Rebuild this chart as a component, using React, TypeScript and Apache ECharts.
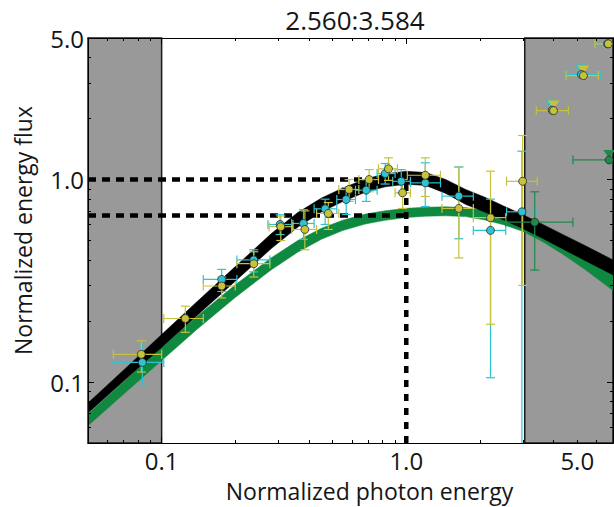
import { useEffect, useRef } from 'react';
import * as echarts from 'echarts';

// ---------- text ----------
const TITLE = '2.560:3.584';
const X_NAME = 'Normalized photon energy';
const Y_NAME = 'Normalized energy flux';

// ---------- axes ----------
const X_MIN = 0.05;
const X_MAX = 7;
const Y_MIN = 0.05;
const Y_MAX = 5;
const X_LABEL_VALUES = [0.1, 1, 5];
const X_LABEL_TEXTS = ['0.1', '1.0', '5.0'];
const Y_LABEL_VALUES = [0.1, 1, 5];
const Y_LABEL_TEXTS = ['0.1', '1.0', '5.0'];
const X_MAJOR = [0.1, 1];
const X_MINOR = [0.06, 0.07, 0.08, 0.09, 0.2, 0.3, 0.4, 0.5, 0.6, 0.7, 0.8, 0.9, 2, 3, 4, 5, 6, 7];
const Y_MAJOR = [0.1, 1];
const Y_MINOR = [0.06, 0.07, 0.08, 0.09, 0.2, 0.3, 0.4, 0.5, 0.6, 0.7, 0.8, 0.9, 2, 3, 4, 5];

// ---------- shaded (excluded) energy ranges ----------
const SHADED = [
  [0.05, 0.1],
  [3.05, 7],
];

// ---------- reference dashed lines ----------
const REF_FLUX = [1.0, 0.665];
const REF_ENERGY = 1.0;

// ---------- model bands (energy grid, lower / upper flux edge) ----------
const BAND_ENERGY = [0.05, 0.07, 0.1, 0.14, 0.2, 0.28, 0.36, 0.45, 0.55, 0.68, 0.82, 1.0, 1.2, 1.45, 1.75, 2.1, 2.5, 3.0, 3.6, 4.4, 5.4, 7.0];
const BLACK_UPPER = [0.0788, 0.1148, 0.1718, 0.2503, 0.3715, 0.5394, 0.6871, 0.81, 0.9078, 1.0058, 1.067, 1.099, 1.084, 1.001, 0.8932, 0.8165, 0.7405, 0.6706, 0.602, 0.533, 0.471, 0.401];
const BLACK_LOWER = [0.0704, 0.1014, 0.1483, 0.2136, 0.3148, 0.4549, 0.5821, 0.691, 0.778, 0.866, 0.92, 0.948, 0.9354, 0.8541, 0.7535, 0.6888, 0.6316, 0.5722, 0.513, 0.452, 0.397, 0.338];
const GREEN_UPPER = [0.0694, 0.1003, 0.1479, 0.2118, 0.302, 0.41, 0.4994, 0.5742, 0.6303, 0.6754, 0.701, 0.7209, 0.7301, 0.7335, 0.7267, 0.702, 0.6695, 0.6281, 0.5679, 0.4982, 0.4259, 0.3419];
const GREEN_LOWER = [0.0609, 0.0872, 0.1276, 0.1828, 0.2618, 0.3575, 0.4378, 0.507, 0.5602, 0.6031, 0.6288, 0.6492, 0.659, 0.662, 0.656, 0.6307, 0.5978, 0.5546, 0.4937, 0.425, 0.3585, 0.2832];

// ---------- measurements [x, y, xLow, xHigh, yLow, yHigh] ----------
const CYAN_POINTS = [
  [0.0834, 0.125, 0.0635, 0.102, 0.098, 0.152],
  [0.176, 0.321, 0.148, 0.203, 0.28, 0.36],
  [0.238, 0.401, 0.203, 0.277, 0.35, 0.45],
  [0.305, 0.6, 0.272, 0.344, 0.535, 0.67],
  [0.38, 0.607, 0.34, 0.42, 0.506, 0.71],
  [0.466, 0.717, 0.42, 0.52, 0.6, 0.8],
  [0.568, 0.797, 0.52, 0.62, 0.672, 0.913],
  [0.686, 0.886, 0.62, 0.76, 0.78, 1.0],
  [0.82, 1.07, 0.76, 0.9, 0.95, 1.2],
  [0.954, 0.98, 0.88, 1.04, 0.86, 1.12],
  [1.196, 0.963, 1.04, 1.38, 0.736, 1.21],
  [1.64, 0.828, 1.4, 1.88, 0.51, 1.155],
  [2.21, 0.561, 1.88, 2.55, 0.105, 0.8],
  [2.97, 0.693, 2.57, 3.43, 0.01, 1.38],
  [3.95, 2.2, 3.4, 4.6, 2.2, 2.2],
  [5.2, 3.3, 4.5, 6.2, 3.3, 3.3],
  [6.65, 4.68, 5.9, 7.5, 4.68, 4.68],
];
const YELLOW_POINTS = [
  [0.0826, 0.137, 0.0635, 0.1, 0.112, 0.16],
  [0.125, 0.206, 0.102, 0.148, 0.176, 0.237],
  [0.176, 0.298, 0.148, 0.2, 0.26, 0.33],
  [0.238, 0.384, 0.203, 0.277, 0.33, 0.44],
  [0.307, 0.585, 0.275, 0.344, 0.5, 0.66],
  [0.385, 0.567, 0.34, 0.43, 0.45, 0.7],
  [0.48, 0.68, 0.43, 0.53, 0.567, 0.77],
  [0.584, 0.893, 0.53, 0.64, 0.78, 1.0],
  [0.705, 1.0, 0.64, 0.77, 0.87, 1.12],
  [0.846, 1.13, 0.77, 0.92, 0.99, 1.28],
  [0.966, 0.86, 0.9, 1.04, 0.72, 1.0],
  [1.196, 1.05, 1.01, 1.38, 0.825, 1.28],
  [1.64, 0.72, 1.4, 1.88, 0.41, 1.15],
  [2.21, 0.648, 1.88, 2.55, 0.193, 1.1],
  [2.99, 0.98, 2.57, 3.43, 0.3, 1.65],
  [4.0, 2.19, 3.4, 4.6, 2.19, 2.19],
  [5.3, 3.26, 4.5, 6.1, 3.26, 3.26],
  [6.7, 4.68, 5.9, 7.5, 4.68, 4.68],
];
const GREEN_POINTS = [
  [3.35, 0.616, 2.55, 4.8, 0.357, 0.87],
  [6.75, 1.25, 4.8, 8.0, 1.25, 1.25],
];
// upper-limit markers [x, y]
const CYAN_LIMITS = [[3.95, 2.2], [5.2, 3.3]];
const YELLOW_LIMITS = [[4.0, 2.19], [5.3, 3.26]];
const GREEN_LIMITS = [[6.75, 1.25]];

// ---------- style ----------
const FONT = 'Open Sans';
const TEXT_COLOR = '#151515';
const C_CYAN = '#2ec3d3';
const C_YELLOW = '#c6c23a';
const C_DKGREEN = '#1f8a4c';
const C_GREEN_CURVE = '#0e893f';
const C_SHADE = '#999999';

const log10 = (v: number) => Math.log10(v);

function labelFormatter(values: number[], texts: string[]) {
  return (v: number) => {
    let best = 0;
    let bd = Infinity;
    values.forEach((lv, i) => {
      const d = Math.abs(log10(lv) - v);
      if (d < bd) { bd = d; best = i; }
    });
    return texts[best];
  };
}

function tickAxis(dim: 'x' | 'y', position: string, ticks: number[], length: number, withLine: boolean, withLabels: boolean, extra: any = {}) {
  const isX = dim === 'x';
  const min = log10(isX ? X_MIN : Y_MIN);
  const max = log10(isX ? X_MAX : Y_MAX);
  const lv = isX ? X_LABEL_VALUES : Y_LABEL_VALUES;
  const lt = isX ? X_LABEL_TEXTS : Y_LABEL_TEXTS;
  return {
    type: 'value',
    gridIndex: 0,
    position,
    min,
    max,
    z: 10,
    silent: true,
    axisLine: { show: withLine, onZero: false, lineStyle: { color: '#000', width: 1 } },
    axisTick: {
      show: true,
      inside: true,
      length,
      customValues: ticks.map(log10),
      lineStyle: { color: '#000', width: 1 },
    },
    axisLabel: withLabels
      ? {
          show: true,
          customValues: lv.map(log10),
          formatter: labelFormatter(lv, lt),
          fontFamily: FONT,
          fontSize: 24,
          color: TEXT_COLOR,
          margin: isX ? 5 : 4,
        }
      : { show: false },
    splitLine: { show: false },
    ...extra,
  };
}

function band(name: string, lower: number[], upper: number[], color: string, z: number) {
  return {
    type: 'custom',
    name,
    xAxisIndex: 0,
    yAxisIndex: 0,
    z,
    clip: true,
    silent: true,
    data: BAND_ENERGY.map((e, i) => [e, lower[i], upper[i]]),
    renderItem: (params: any, api: any) => {
      if (params.dataIndexInside !== 0) return null;
      const n = params.dataInsideLength;
      const top: number[][] = [];
      const bottom: number[][] = [];
      for (let i = 0; i < n; i++) {
        const x = api.value(0, i);
        top.push(api.coord([x, api.value(2, i)]));
        bottom.push(api.coord([x, api.value(1, i)]));
      }
      return {
        type: 'polygon',
        shape: { points: top.concat(bottom.reverse()) },
        style: { fill: color, stroke: color, lineWidth: 0.5 },
      };
    },
  };
}

function errorBars(name: string, pts: number[][], color: string, z: number) {
  return {
    type: 'custom',
    name,
    xAxisIndex: 0,
    yAxisIndex: 0,
    z,
    clip: true,
    silent: true,
    data: pts,
    renderItem: (_params: any, api: any) => {
      const x = api.value(0);
      const y = api.value(1);
      const xl = api.value(2);
      const xh = api.value(3);
      const yl = api.value(4);
      const yh = api.value(5);
      const L = api.coord([xl, y]);
      const R = api.coord([xh, y]);
      const T = api.coord([x, yh]);
      const B = api.coord([x, yl]);
      const cap = 4.5;
      const style = { stroke: color, lineWidth: 1.2, fill: null };
      const children: any[] = [
        { type: 'line', shape: { x1: L[0], y1: L[1], x2: R[0], y2: R[1] }, style },
        { type: 'line', shape: { x1: L[0], y1: L[1] - cap, x2: L[0], y2: L[1] + cap }, style },
        { type: 'line', shape: { x1: R[0], y1: R[1] - cap, x2: R[0], y2: R[1] + cap }, style },
      ];
      if (yh > yl) {
        children.push(
          { type: 'line', shape: { x1: T[0], y1: T[1], x2: B[0], y2: B[1] }, style },
          { type: 'line', shape: { x1: T[0] - cap, y1: T[1], x2: T[0] + cap, y2: T[1] }, style },
          { type: 'line', shape: { x1: B[0] - cap, y1: B[1], x2: B[0] + cap, y2: B[1] }, style },
        );
      }
      return { type: 'group', children };
    },
  };
}

function markers(name: string, pts: number[][], color: string, z: number) {
  return {
    type: 'scatter',
    name,
    xAxisIndex: 0,
    yAxisIndex: 0,
    z,
    silent: true,
    symbol: 'circle',
    symbolSize: 8,
    itemStyle: { color, borderColor: '#2a2a2a', borderWidth: 0.8, opacity: 1 },
    data: pts.map((p) => [p[0], p[1]]),
  };
}

function limits(name: string, pts: number[][], color: string, z: number, dx = 0) {
  return {
    type: 'scatter',
    name,
    xAxisIndex: 0,
    yAxisIndex: 0,
    z,
    silent: true,
    symbol: 'triangle',
    symbolRotate: 180,
    symbolSize: [12, 8],
    symbolOffset: [dx, -6],
    itemStyle: { color, opacity: 1 },
    data: pts.map((p) => [p[0], p[1]]),
  };
}

function buildOption() {
  const dash = (data: number[][], type: number[]) => ({
    type: 'line',
    xAxisIndex: 0,
    yAxisIndex: 0,
    z: 4,
    silent: true,
    showSymbol: false,
    symbol: 'none',
    data,
    lineStyle: { color: '#000', width: 4.5, type },
  });

  return {
    animation: false,
    backgroundColor: '#ffffff',
    title: {
      text: TITLE,
      left: 350,
      textAlign: 'center',
      top: 2,
      textStyle: { fontFamily: FONT, fontSize: 26, fontWeight: 'normal', color: TEXT_COLOR },
    },
    grid: { left: 88, right: 1, top: 38, bottom: 63, containLabel: false },
    xAxis: [
      { type: 'log', logBase: 10, min: X_MIN, max: X_MAX, show: false, gridIndex: 0 },
      tickAxis('x', 'bottom', X_MAJOR, 6, true, true, {
        name: X_NAME,
        nameLocation: 'middle',
        nameGap: 36,
        nameTextStyle: { fontFamily: FONT, fontSize: 23, color: TEXT_COLOR, padding: [0, 0, 0, 38] },
      }),
      tickAxis('x', 'bottom', X_MINOR, 3, false, false),
      tickAxis('x', 'top', X_MAJOR, 6, true, false),
      tickAxis('x', 'top', X_MINOR, 3, false, false),
    ],
    yAxis: [
      { type: 'log', logBase: 10, min: Y_MIN, max: Y_MAX, show: false, gridIndex: 0 },
      tickAxis('y', 'left', Y_MAJOR, 6, true, true, {
        name: Y_NAME,
        nameLocation: 'middle',
        nameGap: 54,
        nameRotate: 90,
        nameTextStyle: { fontFamily: FONT, fontSize: 23, color: TEXT_COLOR, padding: [0, 0, 0, 20] },
      }),
      tickAxis('y', 'left', Y_MINOR, 3, false, false),
      tickAxis('y', 'right', Y_MAJOR, 6, true, false),
      tickAxis('y', 'right', Y_MINOR, 3, false, false),
    ],
    series: [
      {
        type: 'line',
        name: 'shade',
        xAxisIndex: 0,
        yAxisIndex: 0,
        z: 1,
        silent: true,
        data: [],
        markArea: {
          silent: true,
          label: { show: false },
          itemStyle: { color: C_SHADE, borderColor: '#1a1a1a', borderWidth: 1.5 },
          data: SHADED.map((r) => [
            { xAxis: r[0], yAxis: Y_MIN },
            { xAxis: r[1], yAxis: Y_MAX },
          ]),
        },
      },
      band('model green', GREEN_LOWER, GREEN_UPPER, C_GREEN_CURVE, 2),
      band('model black', BLACK_LOWER, BLACK_UPPER, '#000000', 3),
      ...REF_FLUX.map((f) => dash([[X_MIN, f], [REF_ENERGY, f]], [8, 6])),
      dash([[REF_ENERGY, Y_MIN], [REF_ENERGY, REF_FLUX[0]]], [7, 7]),
      errorBars('cyan err', CYAN_POINTS, C_CYAN, 5),
      errorBars('yellow err', YELLOW_POINTS, C_YELLOW, 6),
      errorBars('green err', GREEN_POINTS, C_DKGREEN, 7),
      limits('cyan ul', CYAN_LIMITS, C_CYAN, 8, -1),
      limits('yellow ul', YELLOW_LIMITS, C_YELLOW, 9),
      limits('green ul', GREEN_LIMITS, C_DKGREEN, 10),
      markers('cyan', CYAN_POINTS, C_CYAN, 11),
      markers('yellow', YELLOW_POINTS, C_YELLOW, 12),
      markers('green', GREEN_POINTS, C_DKGREEN, 13),
    ],
  };
}

export default function App() {
  const ref = useRef<HTMLDivElement>(null);
  useEffect(() => {
    if (!ref.current) return;
    const chart = echarts.init(ref.current, null, { renderer: 'svg' });
    chart.setOption(buildOption() as any);
    return () => chart.dispose();
  }, []);
  return (
    <div
      ref={ref}
      style={{ position: 'fixed', left: 0, top: 0, width: 614, height: 507, background: '#fff' }}
    />
  );
}
